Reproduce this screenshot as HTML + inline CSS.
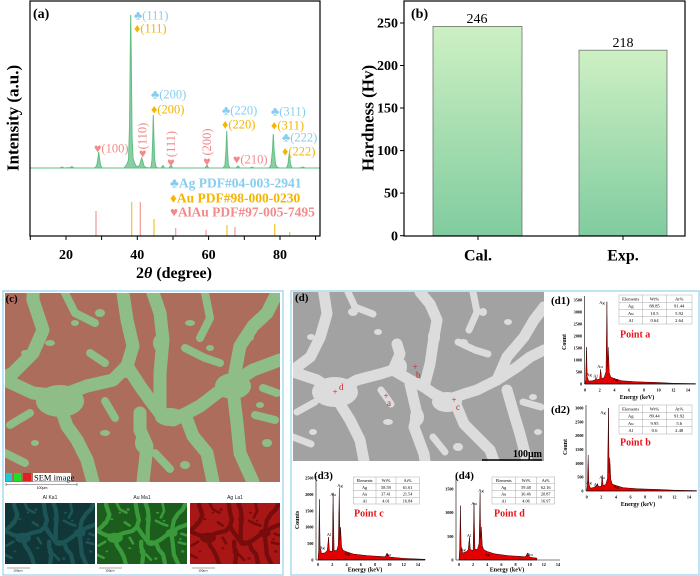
<!DOCTYPE html>
<html><head><meta charset="utf-8">
<style>html,body{margin:0;padding:0;background:#fff;width:700px;height:576px;overflow:hidden}svg{display:block}</style>
</head><body>
<svg width="700" height="576" viewBox="0 0 700 576" xmlns="http://www.w3.org/2000/svg" xmlns:xlink="http://www.w3.org/1999/xlink" font-family="'Liberation Serif','DejaVu Serif',serif">
<defs>
<linearGradient id="bar" x1="0" y1="0" x2="0" y2="1"><stop offset="0" stop-color="#cdf0c3"/><stop offset="1" stop-color="#80cc9f"/></linearGradient>
<g id="netc">
 <g fill="none" stroke="currentColor" stroke-width="13" stroke-linejoin="round" stroke-linecap="round">
  <polyline points="0,87 28,100 55,103 82,93 108,87 122,73 135,93 145,107 155,120 168,127 182,120 195,113 212,100 228,90 248,77 275,67"/>
  <polyline points="55,113 62,133 72,147 82,167 88,189"/>
  <polyline points="135,120 135,137 142,153 138,189"/>
  <polyline points="155,113 155,80 158,47 155,20 148,0"/>
  <polyline points="182,127 188,143 202,160 208,189"/>
  <polyline points="228,90 235,53 248,33 262,20 272,0"/>
  <polyline points="228,97 232,130 235,160 248,189"/>
  <polyline points="28,0 28,7 38,37 28,60 8,80 0,84"/>
  <polyline points="118,0 122,27 128,53 122,73"/>
 </g>
 <g fill="none" stroke="currentColor" stroke-width="8" stroke-linejoin="round" stroke-linecap="round">
  <polyline points="60,0 70,20 90,30"/>
  <polyline points="200,0 205,25 195,45"/>
  <polyline points="180,55 200,65 215,70"/>
  <polyline points="100,108 110,125"/>
  <polyline points="250,122 270,127"/>
  <polyline points="5,132 25,120"/>
  <polyline points="0,160 20,170"/>
  <polyline points="150,160 165,176"/>
  <polyline points="85,60 100,70"/>
  <polyline points="258,95 272,100"/>
 </g>
 <g fill="currentColor">
  <ellipse cx="55" cy="108" rx="24" ry="16"/><ellipse cx="228" cy="93" rx="18" ry="13"/>
  <ellipse cx="165" cy="124" rx="15" ry="9"/><ellipse cx="122" cy="78" rx="9" ry="7"/>
  <ellipse cx="138" cy="150" rx="8" ry="10"/><ellipse cx="155" cy="50" rx="7" ry="9"/>
  <ellipse cx="20" cy="60" rx="4" ry="3"/><ellipse cx="45" cy="50" rx="5" ry="3"/><ellipse cx="70" cy="30" rx="4" ry="3"/>
  <ellipse cx="95" cy="20" rx="5" ry="4"/><ellipse cx="185" cy="30" rx="5" ry="3"/><ellipse cx="205" cy="55" rx="4" ry="3"/>
  <ellipse cx="245" cy="45" rx="4" ry="3"/><ellipse cx="100" cy="140" rx="5" ry="3"/><ellipse cx="30" cy="150" rx="4" ry="3"/>
  <ellipse cx="180" cy="172" rx="5" ry="4"/><ellipse cx="255" cy="112" rx="4" ry="3"/><ellipse cx="262" cy="150" rx="5" ry="4"/>
 </g>
</g>
<g id="netd">
 <g fill="none" stroke="currentColor" stroke-width="11" stroke-linejoin="round" stroke-linecap="round">
  <polyline points="30.7,0 34,21.7 27.3,45 17.3,65 4,75 0,78"/>
  <polyline points="0,80 24,88 42,100 64,88 87,82 100,78 107,62 104,52"/>
  <polyline points="100,78 117,88 131,95 141,102 154,108 171,102 184,98 204,88 224,75 237,65 251,58"/>
  <polyline points="131,95 137,72 141,45 144,28 137,12 127,0"/>
  <polyline points="47,112 57,128 67,148 71,169"/>
  <polyline points="117,92 124,122 121,135 131,162 132,169"/>
  <polyline points="164,115 171,132 184,145 197,158 201,169"/>
  <polyline points="204,88 214,65 231,45 241,28 251,15"/>
  <polyline points="214,98 221,122 227,142 234,169"/>
 </g>
 <g fill="none" stroke="currentColor" stroke-width="7" stroke-linejoin="round" stroke-linecap="round">
  <polyline points="55,0 62,15 80,22"/>
  <polyline points="180,0 184,20 176,38"/>
  <polyline points="165,50 182,58 195,62"/>
  <polyline points="88,98 98,112"/>
  <polyline points="230,110 248,115"/>
  <polyline points="4,120 22,110"/>
  <polyline points="0,145 18,152"/>
  <polyline points="140,145 152,160"/>
 </g>
 <g fill="currentColor">
  <ellipse cx="42" cy="100" rx="23" ry="15"/><ellipse cx="154" cy="110" rx="15" ry="10"/><ellipse cx="107" cy="75" rx="7" ry="9"/>
  <ellipse cx="124" cy="125" rx="7" ry="9"/><ellipse cx="141" cy="45" rx="6" ry="8"/>
  <ellipse cx="18" cy="45" rx="4" ry="3"/><ellipse cx="60" cy="20" rx="5" ry="4"/><ellipse cx="85" cy="40" rx="4" ry="3"/>
  <ellipse cx="170" cy="50" rx="5" ry="3"/><ellipse cx="190" cy="20" rx="4" ry="4"/><ellipse cx="215" cy="30" rx="4" ry="3"/>
  <ellipse cx="95" cy="130" rx="5" ry="3"/><ellipse cx="20" cy="140" rx="4" ry="3"/><ellipse cx="165" cy="155" rx="5" ry="4"/>
  <ellipse cx="240" cy="105" rx="4" ry="3"/><ellipse cx="245" cy="140" rx="4" ry="3"/>
 </g>
</g>
</defs>

<!-- ================= Panel (a) ================= -->
<g>
 <path d="M30,168 L60,168 L62,167 L64,168 L70,167.6 L72,166.6 L74,168 L94,168 L95.5,167.5 L97,164.5 L98,158 L98.7,152 L99.5,158 L100.5,165 L102,168 L124,168 L125,167 L127,164 L128.5,160 L129.5,128 L130.2,60 L130.7,15 L131.3,60 L132,135 L133,158 L134.5,163 L136,166 L138,166.5 L139.5,165.5 L140.7,161 L141.7,158 L142.7,161 L144,166 L146,167.5 L150,168 L151,167 L152,160 L152.7,140 L153.3,115 L154,140 L154.7,160 L156,167 L158,168 L161,168 L163,165.5 L164.5,168 L169,168 L171,165 L172.5,168 L205,168 L207,165 L208.5,168 L223,168 L225,165 L226,150 L226.7,131 L227.4,150 L228.4,165 L230,168 L236,168 L238,166 L240,168 L250,168 L252,167 L254,168 L269,168 L271,165 L272.5,150 L273.3,134 L274.1,150 L275.5,164 L277,167 L279,168 L286.5,168 L288,164 L289.3,153 L290.5,164 L292,168 L300,168 L303,167 L305,168 L320,168 Z" fill="#88d0a3" stroke="#62bd85" stroke-width="1"/>
 <g stroke-width="1.2">
  <line x1="96" y1="211" x2="96" y2="236" stroke="#f49a9a"/>
  <line x1="131.7" y1="202" x2="131.7" y2="236" stroke="#f5c234"/>
  <line x1="140.3" y1="202" x2="140.3" y2="236" stroke="#f49a9a"/>
  <line x1="154" y1="219" x2="154" y2="236" stroke="#f5c234"/>
  <line x1="175.7" y1="228" x2="175.7" y2="236" stroke="#f49a9a"/>
  <line x1="206" y1="230" x2="206" y2="236" stroke="#f49a9a"/>
  <line x1="227" y1="225" x2="227" y2="236" stroke="#f5c234"/>
  <line x1="235" y1="227" x2="235" y2="236" stroke="#f49a9a"/>
  <line x1="274.7" y1="224" x2="274.7" y2="236" stroke="#f5c234"/>
  <line x1="289.7" y1="232" x2="289.7" y2="236" stroke="#f5c234"/>
 </g>
 <rect x="30" y="1" width="290" height="235" fill="none" stroke="#000" stroke-width="1.2"/>
 <g stroke="#000" stroke-width="1">
  <line x1="30.3" y1="236" x2="30.3" y2="240"/><line x1="66" y1="236" x2="66" y2="240"/><line x1="101.6" y1="236" x2="101.6" y2="240"/>
  <line x1="137.3" y1="236" x2="137.3" y2="240"/><line x1="173" y1="236" x2="173" y2="240"/><line x1="208.6" y1="236" x2="208.6" y2="240"/>
  <line x1="244.3" y1="236" x2="244.3" y2="240"/><line x1="280" y1="236" x2="280" y2="240"/><line x1="315.6" y1="236" x2="315.6" y2="240"/>
 </g>
 <g font-size="14" font-weight="bold" text-anchor="middle">
  <text x="66" y="259">20</text><text x="137.3" y="259">40</text><text x="208.6" y="259">60</text><text x="280" y="259">80</text>
 </g>
 <text x="174" y="278" text-anchor="middle" font-size="16" font-weight="bold">2<tspan font-style="italic">θ</tspan> (degree)</text>
 <text transform="translate(13,118) rotate(-90)" text-anchor="middle" dominant-baseline="central" font-size="17" font-weight="bold">Intensity (a.u.)</text>
 <text x="33" y="18" font-size="14" font-weight="bold">(a)</text>

 <g font-size="12.5">
  <text x="134" y="19.5" fill="#86cdf0">♣(111)</text>
  <text x="134" y="32.5" fill="#f5b400">♦(111)</text>
  <text x="151" y="98.4" fill="#86cdf0">♣(200)</text>
  <text x="151" y="113.4" fill="#f5b400">♦(200)</text>
  <text x="222" y="114.4" fill="#86cdf0">♣(220)</text>
  <text x="222" y="128.4" fill="#f5b400">♦(220)</text>
  <text x="271" y="115.4" fill="#86cdf0">♣(311)</text>
  <text x="271" y="129.4" fill="#f5b400">♦(311)</text>
  <text x="282" y="141.4" fill="#86cdf0">♣(222)</text>
  <text x="282" y="155.4" fill="#f5b400">♦(222)</text>
  <text x="94" y="152.4" fill="#f28a8a">♥(100)</text>
  <text x="233" y="163.4" fill="#f28a8a">♥(210)</text>
  <text transform="translate(142.7,136) rotate(-90)" text-anchor="middle" dominant-baseline="central" fill="#f28a8a">(110)</text>
  <text x="142.7" y="157.5" text-anchor="middle" fill="#f28a8a">♥</text>
  <text transform="translate(171,144) rotate(-90)" text-anchor="middle" dominant-baseline="central" fill="#f28a8a">(111)</text>
  <text x="171" y="166.5" text-anchor="middle" fill="#f28a8a">♥</text>
  <text transform="translate(207,142) rotate(-90)" text-anchor="middle" dominant-baseline="central" fill="#f28a8a">(200)</text>
  <text x="207" y="165.5" text-anchor="middle" fill="#f28a8a">♥</text>
 </g>
 <g font-size="13.5" font-weight="bold">
  <text x="170" y="187.5" fill="#86cdf0">♣Ag PDF#04-003-2941</text>
  <text x="170" y="202.5" fill="#f5b400">♦Au PDF#98-000-0230</text>
  <text x="170" y="216.5" fill="#f28a8a">♥AlAu PDF#97-005-7495</text>
 </g>
</g>

<!-- ================= Panel (b) ================= -->
<g>
 <rect x="433" y="26.4" width="89" height="209.3" fill="url(#bar)" stroke="#6e766e" stroke-width="0.8"/>
 <rect x="579" y="50.2" width="88" height="185.5" fill="url(#bar)" stroke="#6e766e" stroke-width="0.8"/>
 <rect x="404" y="1" width="281" height="235" fill="none" stroke="#000" stroke-width="1.2"/>
 <g stroke="#000" stroke-width="1">
  <line x1="400" y1="235.7" x2="404" y2="235.7"/><line x1="400" y1="193.1" x2="404" y2="193.1"/>
  <line x1="400" y1="150.6" x2="404" y2="150.6"/><line x1="400" y1="108" x2="404" y2="108"/>
  <line x1="400" y1="65.5" x2="404" y2="65.5"/><line x1="400" y1="23" x2="404" y2="23"/>
  <line x1="478" y1="236" x2="478" y2="240"/><line x1="623" y1="236" x2="623" y2="240"/>
 </g>
 <g font-size="14" font-weight="bold" text-anchor="end">
  <text x="398" y="240.3">0</text><text x="398" y="197.7">50</text><text x="398" y="155.2">100</text>
  <text x="398" y="112.6">150</text><text x="398" y="70.1">200</text><text x="398" y="27.6">250</text>
 </g>
 <g font-size="16" font-weight="bold" text-anchor="middle">
  <text x="478" y="260.5">Cal.</text><text x="623" y="260.5">Exp.</text>
 </g>
 <g font-size="14" text-anchor="middle">
  <text x="477" y="23">246</text><text x="623" y="47">218</text>
 </g>
 <text transform="translate(368,118) rotate(-90)" text-anchor="middle" dominant-baseline="central" font-size="17" font-weight="bold">Hardness (Hv)</text>
 <text x="411" y="18" font-size="14" font-weight="bold">(b)</text>
</g>

<!-- ================= Panel (c) ================= -->
<g>
 <rect x="3" y="291" width="280" height="284" fill="none" stroke="#a8daf3" stroke-width="1.5"/>
 <svg x="5" y="293" width="275" height="189" viewBox="0 0 275 189" preserveAspectRatio="none">
  <rect width="275" height="189" fill="#ac6d5d"/>
  <use xlink:href="#netc" href="#netc" color="#8fbd88"/>
 </svg>
 <text x="5.5" y="302" font-size="11" font-weight="bold">(c)</text>
 <rect x="6" y="473" width="6" height="8" fill="#22c8d8"/>
 <rect x="14" y="473" width="7" height="8" fill="#22dd22"/>
 <rect x="23" y="473" width="8" height="8" fill="#e02020"/>
 <rect x="33" y="473" width="38" height="8.5" fill="#fff"/>
 <text x="34" y="480.5" font-size="8.5">SEM image</text>
 <g stroke="#555" stroke-width="0.6">
  <line x1="6" y1="484.5" x2="77" y2="484.5"/><line x1="6" y1="483" x2="6" y2="486"/><line x1="77" y1="483" x2="77" y2="486"/>
 </g>
 <text x="42" y="489" font-size="3.5" text-anchor="middle" font-family="'Liberation Sans',sans-serif">100μm</text>
 <g font-size="5" text-anchor="middle" fill="#222" font-family="'Liberation Sans',sans-serif">
  <text x="50" y="499">Al Ka1</text><text x="142" y="499">Au Ma1</text><text x="235" y="499">Ag La1</text>
 </g>
 <svg x="5" y="503" width="90" height="61" viewBox="0 0 275 189" preserveAspectRatio="none">
  <rect width="275" height="189" fill="#103637"/>
  <use xlink:href="#netc" href="#netc" color="#1d5557"/>
 </svg>
 <svg x="97" y="503" width="90" height="61" viewBox="0 0 275 189" preserveAspectRatio="none">
  <rect width="275" height="189" fill="#1c5c1c"/>
  <use xlink:href="#netc" href="#netc" color="#3a9a3a"/>
 </svg>
 <svg x="190" y="503" width="90" height="61" viewBox="0 0 275 189" preserveAspectRatio="none">
  <rect width="275" height="189" fill="#a81616"/>
  <use xlink:href="#netc" href="#netc" color="#760c0c"/>
 </svg>
 <g stroke="#555" stroke-width="0.5">
  <line x1="7" y1="568" x2="30" y2="568"/><line x1="99" y1="568" x2="122" y2="568"/><line x1="192" y1="568" x2="215" y2="568"/>
 </g>
 <g font-size="3" text-anchor="middle" font-family="'Liberation Sans',sans-serif">
  <text x="18" y="571.5">100μm</text><text x="110" y="571.5">100μm</text><text x="203" y="571.5">100μm</text>
 </g>
</g>

<!-- ================= Panel (d) ================= -->
<g>
 <rect x="291" y="291" width="408" height="284" fill="none" stroke="#a8daf3" stroke-width="1.5"/>
 <svg x="293" y="292" width="251" height="169" viewBox="0 0 251 169" preserveAspectRatio="none">
  <rect width="251" height="169" fill="#a2a2a2"/>
  <use xlink:href="#netd" href="#netd" color="#dcdcdc"/>
 </svg>
 <text x="295" y="301" font-size="11" font-weight="bold">(d)</text>
 <line x1="482" y1="460" x2="542" y2="460" stroke="#000" stroke-width="1.6"/>
 <text x="542" y="457" font-size="10" font-weight="bold" text-anchor="end">100μm</text>
 <g fill="#e01818" font-size="9" stroke="none">
  <text x="335" y="395" text-anchor="middle">+</text><text x="339" y="390">d</text>
  <text x="415" y="370" text-anchor="middle">+</text><text x="416" y="378">b</text>
  <text x="386" y="399" text-anchor="middle">+</text><text x="387" y="406">a</text>
  <text x="454" y="403" text-anchor="middle">+</text><text x="456" y="410">c</text>
 </g>

 <!-- d1 -->
 <text x="551" y="304" font-size="11" font-weight="bold">(d1)</text>
 <path d="M585,384 L585.7,379.1 L586.5,347.1 L587.2,376.6 L588.7,381.1 L592.4,380.8 L595.3,379.8 L596,377.6 L596.8,379.8 L599.7,379.1 L600.6,369.3 L601.6,378.6 L604.1,377.6 L606,371.7 L606.9,301.7 L607.6,366.8 L608.2,347.1 L609.3,372.9 L610.8,377.1 L614.4,378.6 L621.8,380.8 L636.5,381.8 L658.6,382.5 L673.3,383.3 L695.4,383.6 L695.4,384 Z" fill="#e40000" stroke="#2a0000" stroke-width="0.5"/>
 <g stroke="#000" stroke-width="0.6">
  <line x1="584.5" y1="296" x2="584.5" y2="384"/><line x1="584.5" y1="384" x2="696" y2="384"/>
 </g>
 <g font-size="4.2" font-weight="bold" text-anchor="end">
  <text x="582" y="385.5">0</text><text x="582" y="373.5">500</text><text x="582" y="361.5">1000</text><text x="582" y="349.5">1500</text>
  <text x="582" y="337.5">2000</text><text x="582" y="325.5">2500</text><text x="582" y="313.5">3000</text><text x="582" y="301.5">3500</text>
 </g>
 <g font-size="4.2" font-weight="bold" text-anchor="middle">
  <text x="585" y="391.5">0</text><text x="599.7" y="391.5">2</text><text x="614.4" y="391.5">4</text><text x="629.2" y="391.5">6</text>
  <text x="643.9" y="391.5">8</text><text x="658.6" y="391.5">10</text><text x="673.3" y="391.5">12</text><text x="688" y="391.5">14</text>
 </g>
 <text x="637" y="399" font-size="6" font-weight="bold" text-anchor="middle">Energy (keV)</text>
 <text transform="translate(566,342) rotate(-90)" font-size="6" font-weight="bold" text-anchor="middle">Count</text>
 <g font-size="4.5" text-anchor="middle">
  <text x="589" y="376">Ag</text><text x="595.5" y="377.5">Al</text><text x="600" y="368">Au</text><text x="602" y="304">Ag</text><text x="615.5" y="381">Ag</text>
 </g>
 <g>
  <rect x="619" y="295" width="73" height="29" fill="#fff" stroke="#aaa" stroke-width="0.5"/>
  <g stroke="#aaa" stroke-width="0.5">
   <line x1="642.5" y1="295" x2="642.5" y2="324"/><line x1="666.5" y1="295" x2="666.5" y2="324"/>
   <line x1="619" y1="302.25" x2="692" y2="302.25"/><line x1="619" y1="309.5" x2="692" y2="309.5"/><line x1="619" y1="316.75" x2="692" y2="316.75"/>
  </g>
  <g font-size="4.6" text-anchor="middle">
   <text x="630.7" y="300.3">Elements</text><text x="654.5" y="300.3">Wt%</text><text x="679.2" y="300.3">At%</text>
   <text x="630.7" y="307.6">Ag</text><text x="654.5" y="307.6">88.85</text><text x="679.2" y="307.6">91.44</text>
   <text x="630.7" y="314.8">Au</text><text x="654.5" y="314.8">10.5</text><text x="679.2" y="314.8">5.92</text>
   <text x="630.7" y="322.1">Al</text><text x="654.5" y="322.1">0.64</text><text x="679.2" y="322.1">2.64</text>
  </g>
 </g>
 <text x="620" y="337.5" font-size="10" font-weight="bold" fill="#e8141a">Point a</text>

 <!-- d2 -->
 <text x="551" y="413" font-size="11" font-weight="bold">(d2)</text>
 <path d="M586.7,491 L587.4,485.5 L588.2,455 L588.9,484.1 L590.4,488.2 L594,487.4 L597.6,484.1 L598.4,486.6 L601.3,486.3 L602.2,475 L603.1,485.5 L605.7,484.6 L607.5,478.5 L608.5,408 L609.1,473 L609.7,457.8 L610.8,479.4 L612.3,484.1 L615.9,485.5 L623.3,487.7 L637.9,488.8 L659.8,489.5 L674.4,490.2 L696.4,490.6 L696.4,491 Z" fill="#e40000" stroke="#2a0000" stroke-width="0.5"/>
 <g stroke="#000" stroke-width="0.6">
  <line x1="586" y1="405" x2="586" y2="491"/><line x1="586" y1="491" x2="697" y2="491"/>
 </g>
 <g font-size="4.2" font-weight="bold" text-anchor="end">
  <text x="583.5" y="492.5">0</text><text x="583.5" y="478.7">500</text><text x="583.5" y="464.8">1000</text><text x="583.5" y="451">1500</text>
  <text x="583.5" y="437.2">2000</text><text x="583.5" y="423.3">2500</text><text x="583.5" y="409.5">3000</text>
 </g>
 <g font-size="4.2" font-weight="bold" text-anchor="middle">
  <text x="586.7" y="498.5">0</text><text x="601.3" y="498.5">2</text><text x="615.9" y="498.5">4</text><text x="630.6" y="498.5">6</text>
  <text x="645.2" y="498.5">8</text><text x="659.8" y="498.5">10</text><text x="674.4" y="498.5">12</text><text x="689" y="498.5">14</text>
 </g>
 <text x="638" y="506" font-size="6" font-weight="bold" text-anchor="middle">Energy (keV)</text>
 <text transform="translate(567,447) rotate(-90)" font-size="6" font-weight="bold" text-anchor="middle">Count</text>
 <g font-size="4.5" text-anchor="middle">
  <text x="589" y="484">Ag</text><text x="596" y="486">Al</text><text x="602" y="479">Au</text><text x="603" y="414">Ag</text><text x="616" y="488">Ag</text>
 </g>
 <g>
  <rect x="619" y="405" width="73" height="29" fill="#fff" stroke="#aaa" stroke-width="0.5"/>
  <g stroke="#aaa" stroke-width="0.5">
   <line x1="642.5" y1="405" x2="642.5" y2="434"/><line x1="666.5" y1="405" x2="666.5" y2="434"/>
   <line x1="619" y1="412.25" x2="692" y2="412.25"/><line x1="619" y1="419.5" x2="692" y2="419.5"/><line x1="619" y1="426.75" x2="692" y2="426.75"/>
  </g>
  <g font-size="4.6" text-anchor="middle">
   <text x="630.7" y="410.3">Elements</text><text x="654.5" y="410.3">Wt%</text><text x="679.2" y="410.3">At%</text>
   <text x="630.7" y="417.6">Ag</text><text x="654.5" y="417.6">89.44</text><text x="679.2" y="417.6">91.92</text>
   <text x="630.7" y="424.8">Au</text><text x="654.5" y="424.8">9.95</text><text x="679.2" y="424.8">5.6</text>
   <text x="630.7" y="432.1">Al</text><text x="654.5" y="432.1">0.6</text><text x="679.2" y="432.1">2.48</text>
  </g>
 </g>
 <text x="620" y="445.5" font-size="10" font-weight="bold" fill="#e8141a">Point b</text>

 <!-- d3 -->
 <text x="314" y="479" font-size="11" font-weight="bold">(d3)</text>
 <path d="M318,560 L318.7,550.2 L319.4,499.3 L320.1,546.9 L321.6,553.4 L325.1,552.8 L327.3,550.2 L328.6,537 L329.4,550.8 L332.3,551.5 L333.1,492.8 L334.1,550.2 L336.6,550.8 L338.3,545.2 L339.3,487.8 L339.9,540.3 L340.5,527.2 L341.6,546.9 L343,550.2 L346.6,551.8 L353.7,554.1 L368,555.7 L385.1,556.7 L387.3,553.4 L389.4,557 L403.7,558.4 L425.1,559.3 L425.1,560 Z" fill="#e40000" stroke="#2a0000" stroke-width="0.5"/>
 <g stroke="#000" stroke-width="0.6">
  <line x1="316" y1="476" x2="316" y2="560"/><line x1="316" y1="560" x2="425" y2="560"/>
 </g>
 <g font-size="4.2" font-weight="bold" text-anchor="end">
  <text x="313.5" y="561.5">0</text><text x="313.5" y="545.1">500</text><text x="313.5" y="528.7">1000</text>
  <text x="313.5" y="512.3">1500</text><text x="313.5" y="495.9">2000</text><text x="313.5" y="479.5">2500</text>
 </g>
 <g font-size="4.2" font-weight="bold" text-anchor="middle">
  <text x="318" y="566">0</text><text x="332.3" y="566">2</text><text x="346.6" y="566">4</text><text x="360.8" y="566">6</text>
  <text x="375.1" y="566">8</text><text x="389.4" y="566">10</text><text x="403.7" y="566">12</text><text x="418" y="566">14</text>
 </g>
 <text x="365" y="571.5" font-size="6" font-weight="bold" text-anchor="middle">Energy (keV)</text>
 <text transform="translate(299,520) rotate(-90)" font-size="6" font-weight="bold" text-anchor="middle">Counts</text>
 <g font-size="4.5" text-anchor="middle">
  <text x="322" y="549">Ag</text><text x="329" y="536">Al</text><text x="333" y="496">Au</text><text x="340" y="487">Ag</text><text x="347" y="555">Ag</text><text x="388" y="556">Au</text>
 </g>
 <g>
  <rect x="353.3" y="477" width="66" height="27" fill="#fff" stroke="#aaa" stroke-width="0.5"/>
  <g stroke="#aaa" stroke-width="0.5">
   <line x1="376" y1="477" x2="376" y2="504"/><line x1="396" y1="477" x2="396" y2="504"/>
   <line x1="353.3" y1="483.75" x2="419.3" y2="483.75"/><line x1="353.3" y1="490.5" x2="419.3" y2="490.5"/><line x1="353.3" y1="497.25" x2="419.3" y2="497.25"/>
  </g>
  <g font-size="4.3" text-anchor="middle">
   <text x="364.6" y="482">Elements</text><text x="386" y="482">Wt%</text><text x="407.6" y="482">At%</text>
   <text x="364.6" y="488.8">Ag</text><text x="386" y="488.8">58.59</text><text x="407.6" y="488.8">61.61</text>
   <text x="364.6" y="495.5">Au</text><text x="386" y="495.5">37.41</text><text x="407.6" y="495.5">21.54</text>
   <text x="364.6" y="502.3">Al</text><text x="386" y="502.3">4.01</text><text x="407.6" y="502.3">16.84</text>
  </g>
 </g>
 <text x="354" y="516.5" font-size="10" font-weight="bold" fill="#e8141a">Point c</text>

 <!-- d4 -->
 <text x="455" y="479" font-size="11" font-weight="bold">(d4)</text>
 <path d="M459,560 L459.7,548.2 L460.4,505.6 L461.1,545.8 L462.5,552.9 L466.1,552 L468.2,549.6 L469.5,537.3 L470.3,549.6 L473.1,550.5 L474,503.2 L474.9,549.1 L477.4,549.6 L479.1,543.4 L480.1,492.3 L480.7,538.7 L481.3,526.9 L482.3,545.8 L483.7,549.6 L487.3,551.5 L494.4,553.8 L508.5,555.7 L525.5,556.7 L527.6,552.9 L529.7,557.2 L536.8,558.1 L537,560 Z" fill="#e40000" stroke="#2a0000" stroke-width="0.5"/>
 <g stroke="#000" stroke-width="0.6">
  <line x1="456" y1="477" x2="456" y2="560"/><line x1="456" y1="560" x2="560" y2="560"/>
 </g>
 <g font-size="4.2" font-weight="bold" text-anchor="end">
  <text x="453.5" y="561.5">0</text><text x="453.5" y="537.8">500</text><text x="453.5" y="514.2">1000</text><text x="453.5" y="490.5">1500</text>
 </g>
 <g font-size="4.2" font-weight="bold" text-anchor="middle">
  <text x="459" y="566">0</text><text x="473.1" y="566">2</text><text x="487.3" y="566">4</text><text x="501.4" y="566">6</text>
  <text x="515.6" y="566">8</text><text x="529.7" y="566">10</text><text x="543.8" y="566">12</text><text x="558" y="566">14</text>
 </g>
 <text x="507" y="571.5" font-size="6" font-weight="bold" text-anchor="middle">Energy (keV)</text>
 <g font-size="4.5" text-anchor="middle">
  <text x="463" y="551">Ag</text><text x="469" y="537">Al</text><text x="474" y="505">Au</text><text x="481" y="492">Ag</text><text x="487" y="556">Ag</text><text x="530" y="556">Au</text>
 </g>
 <g>
  <rect x="492" y="477" width="62.7" height="27" fill="#fff" stroke="#aaa" stroke-width="0.5"/>
  <g stroke="#aaa" stroke-width="0.5">
   <line x1="515.3" y1="477" x2="515.3" y2="504"/><line x1="536.7" y1="477" x2="536.7" y2="504"/>
   <line x1="492" y1="483.75" x2="554.7" y2="483.75"/><line x1="492" y1="490.5" x2="554.7" y2="490.5"/><line x1="492" y1="497.25" x2="554.7" y2="497.25"/>
  </g>
  <g font-size="4.3" text-anchor="middle">
   <text x="503.7" y="482">Elements</text><text x="526" y="482">Wt%</text><text x="545.7" y="482">At%</text>
   <text x="503.7" y="488.8">Ag</text><text x="526" y="488.8">59.48</text><text x="545.7" y="488.8">62.16</text>
   <text x="503.7" y="495.5">Au</text><text x="526" y="495.5">36.46</text><text x="545.7" y="495.5">20.87</text>
   <text x="503.7" y="502.3">Al</text><text x="526" y="502.3">4.06</text><text x="545.7" y="502.3">16.97</text>
  </g>
 </g>
 <text x="494" y="516.5" font-size="10" font-weight="bold" fill="#e8141a">Point d</text>
</g>
</svg>
</body></html>
